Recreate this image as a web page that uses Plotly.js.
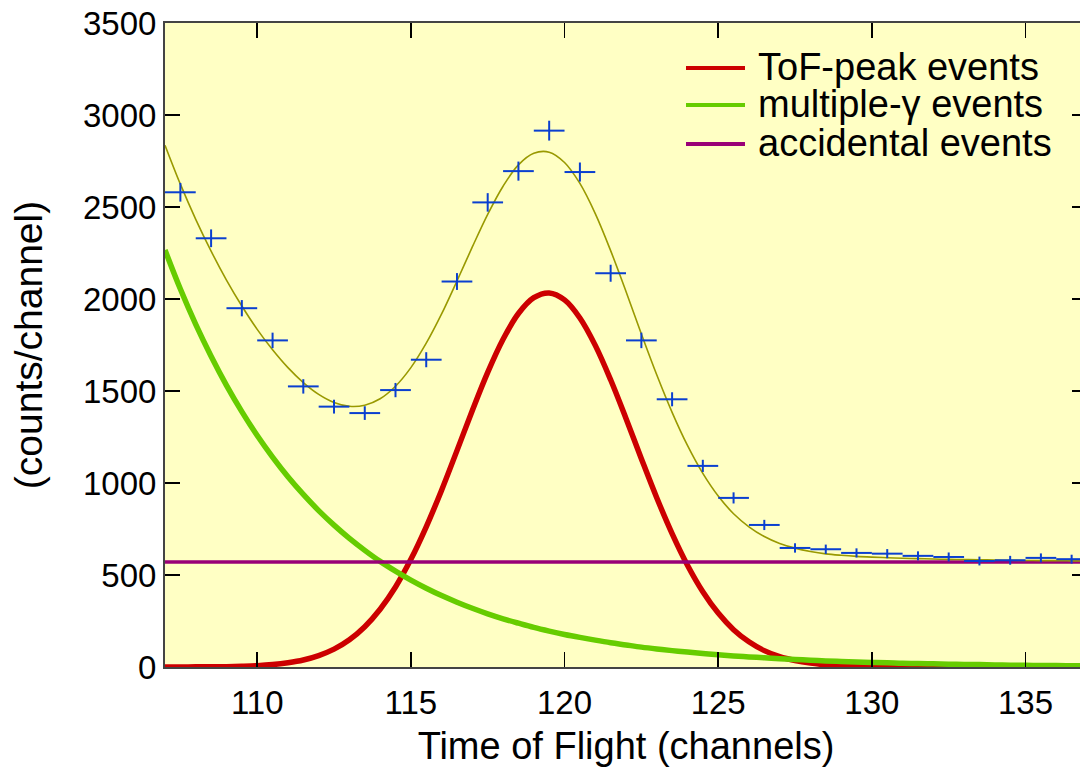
<!DOCTYPE html>
<html><head><meta charset="utf-8">
<script src="https://cdn.plot.ly/plotly-3.0.1.min.js"></script>
<style>html,body{margin:0;padding:0;overflow:hidden;background:#fff}</style>
</head><body><div id="chart"></div>
<script>
// ---- data ----
const curveX = [107,107.5,108,108.5,109,109.5,110,110.5,111,111.5,112,112.5,113,113.5,114,114.5,115,115.5,116,116.5,117,117.5,118,118.5,119,119.5,120,120.5,121,121.5,122,122.5,123,123.5,124,124.5,125,125.5,126,126.5,127,127.5,128,128.5,129,129.5,130,130.5,131,131.5,132,132.5,133,133.5,134,134.5,135,135.5,136,136.5,137];
const tofPeak = [0,0,1,1,2,4,7,13,23,38,62,97,148,219,314,435,585,762,961,1176,1394,1601,1781,1921,2007,2033,1995,1897,1748,1561,1351,1132,920,725,553,409,293,203,137,89,56,35,21,12,7,4,2,1,0,0,0,0,0,0,0,0,0,0,0,0,0];
const multiGamma = [2266,2054,1862,1689,1531,1388,1258,1141,1034,938,850,771,699,634,574,521,472,428,388,352,319,289,262,238,215,195,177,161,146,132,120,108,98,89,81,73,66,60,55,50,45,41,37,33,30,27,25,23,20,19,17,15,14,13,11,10,9,8,8,7,6];
const fitTotal = [2836,2624,2433,2260,2103,1962,1835,1724,1627,1546,1482,1438,1417,1423,1458,1526,1627,1760,1919,2098,2283,2460,2613,2729,2792,2798,2742,2628,2464,2263,2041,1810,1588,1384,1204,1052,929,833,762,709,671,646,628,615,607,601,597,594,591,589,587,585,584,583,581,580,579,578,578,577,576];
const accidentalX = [107,137];
const accidentalY = [570,570];
const channels = [107.5,108.5,109.5,110.5,111.5,112.5,113.5,114.5,115.5,116.5,117.5,118.5,119.5,120.5,121.5,122.5,123.5,124.5,125.5,126.5,127.5,128.5,129.5,130.5,131.5,132.5,133.5,134.5,135.5,136.5];
const counts = [2580,2330,1950,1775,1525,1415,1380,1505,1670,2095,2525,2695,2915,2690,2140,1775,1455,1093,919,772,647,640,620,616,604,598,576,580,593,586];
const xTicks = [110,115,120,125,130,135];
const yTicks = [0,500,1000,1500,2000,2500,3000,3500];
const legendNames = ['ToF-peak events','multiple-\u03b3 events','accidental events'];
const legendColors = ['#cc0000','#66cc00','#990077'];

const FONT = 'Liberation Sans, Arial, Helvetica, sans-serif';

const traces = [
  {x: curveX, y: tofPeak, mode:'lines', line:{color:'#cc0000', width:5.5, shape:'spline'}, hoverinfo:'skip'},
  {x: curveX, y: multiGamma, mode:'lines', line:{color:'#66cc00', width:5.5, shape:'spline'}, hoverinfo:'skip'},
  {x: accidentalX, y: accidentalY, mode:'lines', line:{color:'#990077', width:3.5}, hoverinfo:'skip'},
  {x: curveX, y: fitTotal, mode:'lines', line:{color:'#999900', width:1.6, shape:'spline'}, hoverinfo:'skip'},
  {x: channels, y: counts, mode:'markers', marker:{size:1, color:'rgba(0,0,0,0)'},
   error_x:{type:'constant', value:0.5, width:0, thickness:2, color:'#0a3fd0'},
   error_y:{type:'sqrt', width:0, thickness:2, color:'#0a3fd0'}}
];

const plotL = 165, plotR = 1087, plotT = 23, plotB = 667;
const px = v => (v - plotL) / (plotR - plotL);
const py = v => (plotB - v) / (plotB - plotT);
const legendRows = [68, 105, 144];

const shapes = legendRows.map((r, i) => ({
  type:'line', xref:'paper', yref:'paper', x0: px(686), x1: px(745), y0: py(r), y1: py(r),
  line:{color: legendColors[i], width:4}
}));
const annotations = legendRows.map((r, i) => ({
  xref:'paper', yref:'paper', x: px(757), y: py(r - 1), xanchor:'left', yanchor:'middle',
  text: legendNames[i], showarrow:false, font:{family:FONT, size:38, color:'#000'}, borderpad:0
}));

const axisCommon = {
  ticks:'inside', ticklen:15, tickwidth:1.5, tickcolor:'#000',
  showline:true, linecolor:'#444', linewidth:2, mirror:'ticks',
  showgrid:false, zeroline:false, tickfont:{family:FONT, size:33, color:'#000'}
};

const layout = {
  width: 1087, height: 767,
  margin:{l:plotL, r:0, t:plotT, b:767-plotB, autoexpand:false},
  paper_bgcolor:'#ffffff', plot_bgcolor:'#ffffc4',
  font:{family:FONT, color:'#000'},
  showlegend:false,
  xaxis: Object.assign({}, axisCommon, {
    range:[107,137], tickmode:'array', tickvals:xTicks, ticklabelstandoff:5,
    title:{text:'Time of Flight (channels)', font:{family:FONT, size:38, color:'#000'}, standoff:20}
  }),
  yaxis: Object.assign({}, axisCommon, {
    range:[0,3500], tickmode:'array', tickvals:yTicks,
    title:{text:'(counts/channel)', font:{family:FONT, size:39, color:'#000'}, standoff:28}
  }),
  shapes: shapes,
  annotations: annotations
};

Plotly.newPlot('chart', traces, layout, {displayModeBar:false, staticPlot:true});
</script>
</body></html>
